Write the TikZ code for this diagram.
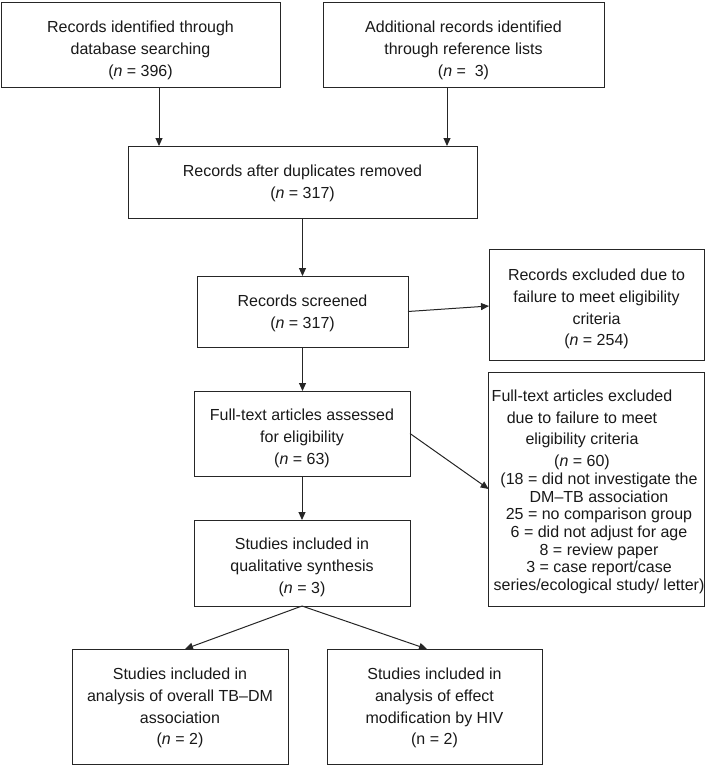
\documentclass[tikz,border=0pt]{standalone}
\usepackage{fontspec}
\setmainfont{Liberation Sans}
\usetikzlibrary{arrows.meta}
\newcommand{\bt}[2]{\raisebox{0pt}[0pt][#1]{\begin{tabular}[t]{@{}c@{}}#2\end{tabular}}}
\begin{document}
\begin{tikzpicture}[x=1pt,y=-1pt,
  box/.style={draw=black!85, line width=1pt, inner sep=0pt, outer sep=0pt,
    font=\fontsize{16}{21.7}\selectfont, text=black!90},
  arr/.style={draw=black!85, line width=1pt, -{Triangle[length=8pt,width=7pt]}}]
\useasboundingbox (0,0) rectangle (709,765);

\node[box, minimum width=279, minimum height=85] (b1) at (140.5,45.5)
  {\bt{25.6pt}{Records identified through\\database searching\\(\textit{n} = 396)}};
\node[box, minimum width=281, minimum height=85] (b2) at (463.5,45.5)
  {\bt{25.6pt}{Additional records identified\\through reference lists\\(\textit{n} =\ \ 3)}};
\node[box, minimum width=349, minimum height=72] (b3) at (302.5,182)
  {\bt{10.6pt}{Records after duplicates removed\\(\textit{n} = 317)}};
\node[box, minimum width=211, minimum height=71] (b4) at (302.5,311.5)
  {\bt{9.6pt}{Records screened\\(\textit{n} = 317)}};
\node[box, minimum width=215, minimum height=111] (b5) at (596.5,304.5)
  {\bt{47.6pt}{Records excluded due to\\failure to meet eligibility\\criteria\\(\textit{n} = 254)}};
\node[box, minimum width=216, minimum height=85] (b6) at (302,433.5)
  {\bt{25.6pt}{Full-text articles assessed\\for eligibility\\(\textit{n} = 63)}};
\node[box, minimum width=215, minimum height=234, font=\fontsize{16}{17.7}\selectfont] (b7) at (596.5,489)
  {\hspace*{5pt}\bt{175pt}{\hspace*{-34pt}Full-text articles excluded\\[4pt]
   \hspace*{-34pt}due to failure to meet\\[4pt]
   \hspace*{-34pt}eligibility criteria\\[4pt]
   \hspace*{-34pt}(\textit{n} = 60)\\
   (18 = did not investigate the\\
   DM–TB association\\
   25 = no comparison group\\
   6 = did not adjust for age\\
   8 = review paper\\
   3 = case report/case\\
   series/ecological study/ letter)}};
\node[box, minimum width=216, minimum height=86] (b8) at (302,563)
  {\bt{26.6pt}{Studies included in\\qualitative synthesis\\(\textit{n} = 3)}};
\node[box, minimum width=216, minimum height=115] (b9) at (180,706.5)
  {\bt{53.6pt}{Studies included in\\analysis of overall TB–DM\\association\\(\textit{n} = 2)}};
\node[box, minimum width=215, minimum height=115] (b10) at (434.5,706.5)
  {\bt{53.6pt}{Studies included in\\analysis of effect\\modification by HIV\\(n = 2)}};

\draw[arr] ([xshift=18.5pt]b1.south) -- ([xshift=18.5pt]b1.south |- b3.north);
\draw[arr] ([xshift=-16.5pt]b2.south) -- ([xshift=-16.5pt]b2.south |- b3.north);
\draw[arr] (b3.south) -- (b4.north);
\draw[arr] (b4.east) -- ([yshift=-1.5pt]b5.west);
\draw[arr] (b4.south) -- (b4.south |- b6.north);
\draw[arr] (b6.east) -- (b7.west);
\draw[arr] (b6.south) -- (b6.south |- b8.north);
\draw[arr] (b8.south) -- ([xshift=5pt]b9.north);
\draw[arr] (b8.south) -- ([xshift=-7.5pt]b10.north);
\end{tikzpicture}
\end{document}
